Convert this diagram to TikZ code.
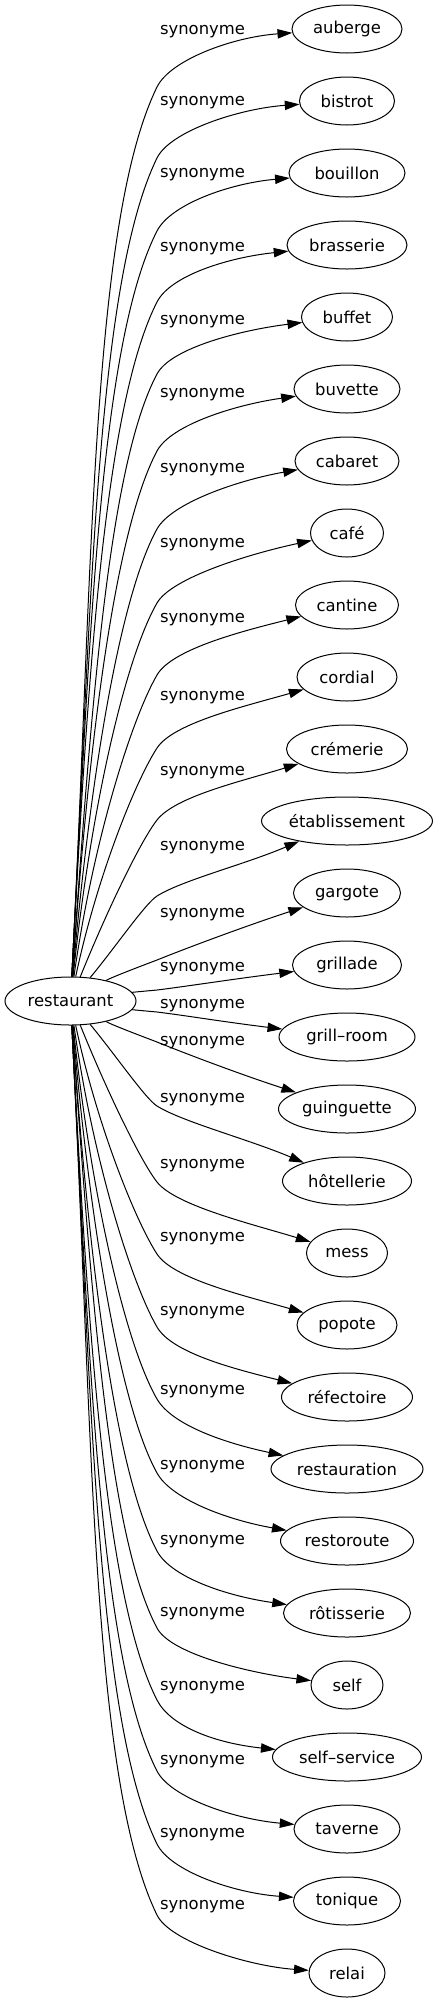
\documentclass[tikz,border=0pt]{standalone}
\usepackage{fontspec}
\setmainfont{DejaVu Sans}
\usetikzlibrary{arrows.meta,shapes.geometric}

\begin{document}
\begin{tikzpicture}[x=0.75pt,y=0.75pt,
		word/.style={draw,ellipse,line width=0.75pt,minimum height=36pt,inner sep=0pt,font=\fontsize{12.3}{14}\selectfont},
		synlabel/.style={inner sep=0pt,font=\fontsize{12.3}{14}\selectfont},
		syn/.style={line width=0.75pt,-{Triangle[length=11pt,width=7pt]}}]
		\useasboundingbox (0,0) rectangle (438,-2003);
		\node[word,minimum width=98.25pt] (rest) at (70.5,-1001) {restaurant};
		\foreach \nm/\word/\wid/\ly/\ao/\am/\ai/\hm [count=\idx from 0] in {
			auberge/auberge/82.5/32/87/64/184/58,
			bistrot/bistrot/71.25/103/87/64/184/57,
			bouillon/bouillon/87/175/87/63/185/58,
			brasserie/brasserie/90/249/87/63/186/57,
			buffet/buffet/68.25/322/86/62/187/57,
			buvette/buvette/79.5/395/86/62/188/62,
			cabaret/cabaret/78/470/85/61/190/68,
			cafe/café/54.75/545/84/60/192/70,
			cantine/cantine/77.25/620/82/60/194/70,
			cordial/cordial/75/698/78/57/196/71,
			cremerie/crémerie/90.75/773/68/52/197/71,
			etablissement/établissement/128.25/848/50/32/203/75,
			gargote/gargote/80.25/915/30/22/198/67,
			grillade/grillade/81.75/969/8/7/187/25,
			grillroom/grill–room/102/1006/-8/-7/173/-25,
			guinguette/guinguette/102.75/1043/-30/-22/162/-67,
			hotellerie/hôtellerie/96.75/1100/-50/-32/157/-75,
			mess/mess/60.75/1166/-68/-52/163/-71,
			popote/popote/75/1239/-78/-57/164/-71,
			refectoire/réfectoire/98.25/1313/-82/-60/166/-70,
			restauration/restauration/114/1392/-84/-60/168/-70,
			restoroute/restoroute/99.75/1467/-85/-61/170/-68,
			rotisserie/rôtisserie/95.25/1542/-86/-62/172/-62,
			self/self/54/1614/-86/-62/173/-57,
			selfservice/self–service/111.75/1688/-87/-63/174/-57,
			taverne/taverne/79.5/1762/-87/-63/175/-58,
			tonique/tonique/80.25/1835/-87/-64/176/-57,
			relai/relai/57/1907/-87/-64/176/-58} % name/text/width/label y/out/bend/in/bend offset
		{
			\pgfmathsetmacro\ty{29+72*\idx}
			\pgfmathsetmacro\my{-\ty-(\hm)}
			\pgfmathsetmacro\dyone{max(abs(1001-\ty-(\hm))-24,4)} % rise up to the bend
			\pgfmathsetmacro\oone{0.75*0.45*\dyone}
			\pgfmathsetmacro\ione{0.75*0.17*\dyone}
			\pgfmathsetmacro\amback{\am+180}
			\node[word,minimum width=\wid pt] (\nm) at (347,-\ty) {\word};
			\node[synlabel] (lab\nm) at (202.5,-\ly) {synonyme};
			\coordinate (bend\nm) at (157,\my);
			\draw[syn] (rest) to[out=\ao,in=\amback,out distance=\oone pt,in distance=\ione pt] (bend\nm)
				to[out=\am,in=\ai,out distance=22.5pt,in distance=45pt] (\nm);
		}
		\end{tikzpicture}
\end{document}
